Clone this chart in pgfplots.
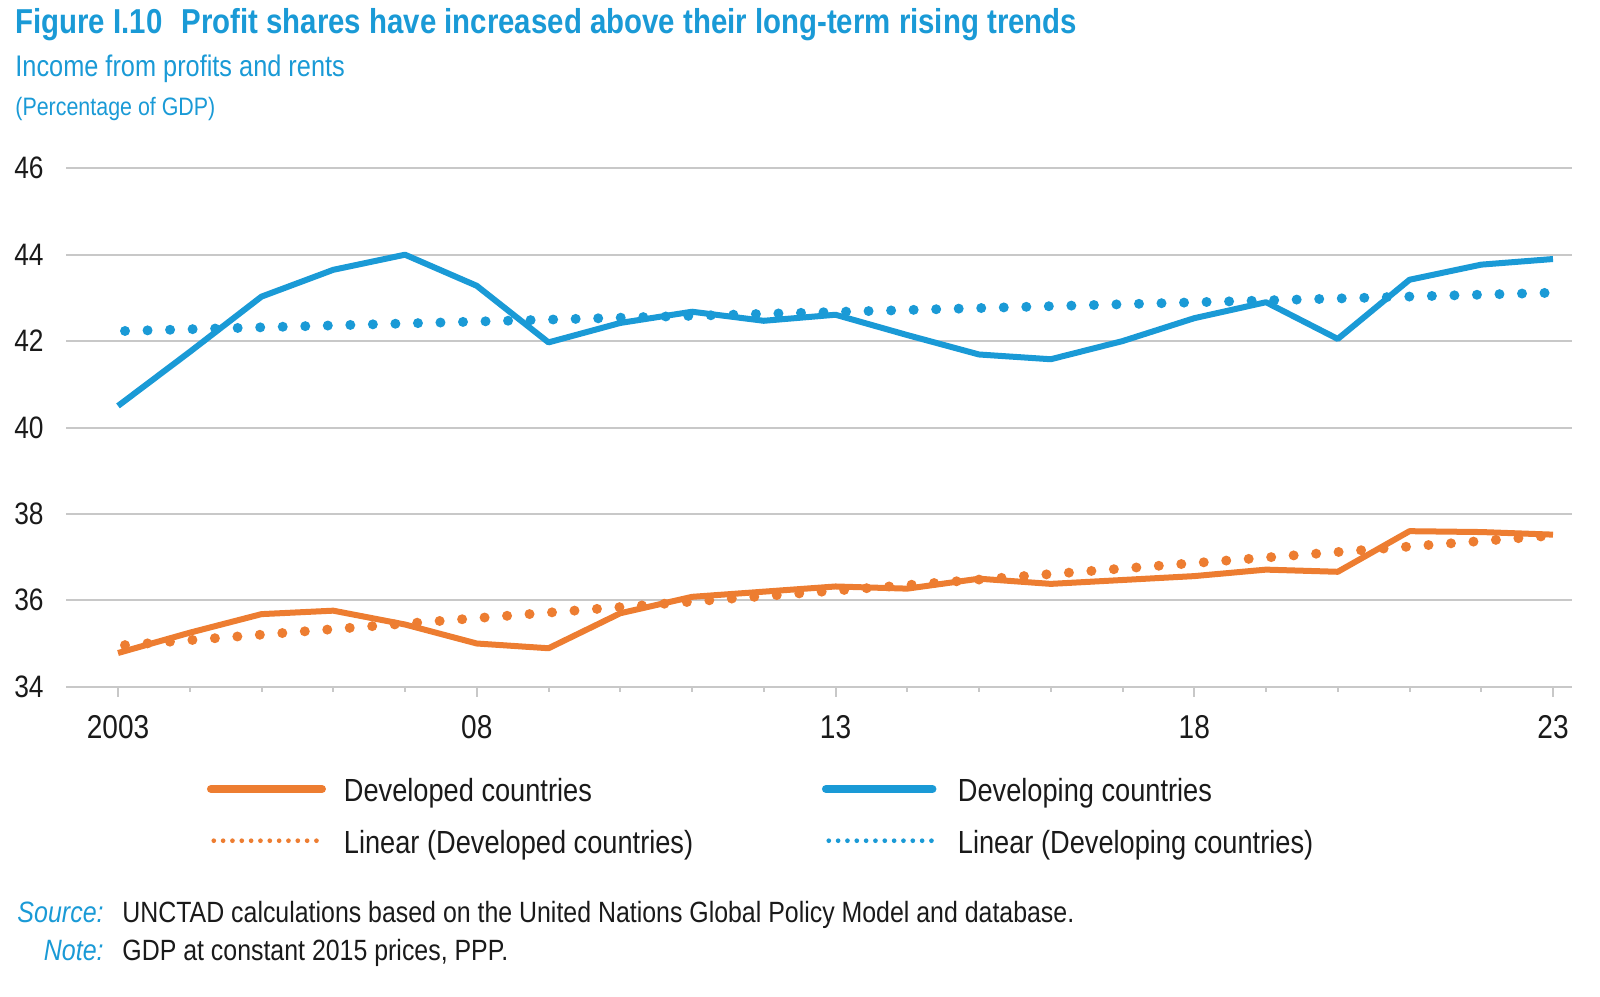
\documentclass[border=0pt]{standalone}
\usepackage{fontspec}
\setmainfont{Liberation Sans}[FakeStretch=0.85]
\usepackage{pgfplots}
\pgfplotsset{compat=1.18}
\definecolor{unblue}{HTML}{1A9AD6}
\definecolor{unorange}{HTML}{ED7D31}
\definecolor{gridgray}{HTML}{C8C8C8}
\definecolor{txt}{HTML}{1A1A1A}

\pgfplotstableread{
year developed developing
2003 34.78 40.50
2004 35.25 41.75
2005 35.68 43.03
2006 35.76 43.65
2007 35.44 44.00
2008 35.00 43.28
2009 34.89 41.97
2010 35.70 42.42
2011 36.08 42.68
2012 36.20 42.47
2013 36.32 42.61
2014 36.27 42.14
2015 36.50 41.69
2016 36.38 41.58
2017 36.47 42.00
2018 36.56 42.53
2019 36.71 42.90
2020 36.66 42.05
2021 37.60 43.42
2022 37.58 43.77
2023 37.52 43.90
}\datatable

\begin{document}
\begin{tikzpicture}
\path[use as bounding box] (0pt,0pt) rectangle (800pt,498pt);
\node[anchor=base west, inner sep=0pt, text=unblue, font=\fontsize{17.3}{20}\selectfont\bfseries] at (7.5pt,481pt) {Figure I.10\hspace{0.55em}Profit shares have increased above their long-term rising trends};
\node[anchor=base west, inner sep=0pt, text=unblue, font=\fontsize{14.9}{17}\selectfont] at (7.5pt,459.5pt) {Income from profits and rents};
\node[anchor=base west, inner sep=0pt, text=unblue, font=\fontsize{12.6}{15}\selectfont] at (7.5pt,440pt) {(Percentage of GDP)};

\begin{axis}[
  at={(33pt,154.65pt)}, anchor=south west,
  scale only axis, width=753pt, height=259.2pt,
  xmin=2002.275, xmax=2023.265, ymin=34, ymax=46,
  ytick={34,36,38,40,42,44,46},
  xtick={2003,2008,2013,2018,2023},
  xticklabels={2003,08,13,18,23},
  minor xtick={2004,2005,2006,2007,2009,2010,2011,2012,2014,2015,2016,2017,2019,2020,2021,2022},
  axis line style={draw=none},
  ymajorgrids, grid style={gridgray, line width=1pt},
  xtick pos=bottom, ytick pos=left,
  tick align=outside, major tick length=5pt, minor tick length=2.5pt,
  xtick style={gridgray, line width=1pt},
  ytick style={draw=none},
  /pgf/number format/assume math mode=true,
  yticklabel style={font=\fontsize{15.5}{18}\selectfont, text=txt, anchor=east, inner sep=0pt, xshift=-6pt},
  xticklabel style={font=\fontsize{16.5}{19}\selectfont, text=txt, anchor=base, inner sep=0pt, yshift=-20.65pt},
  legend columns=2,
  legend cell align=left,
  legend style={at={(axis description cs:0.0936,-0.17554)}, anchor=north west,
    draw=none, fill=none, inner sep=0pt, outer sep=0pt, row sep=9.85pt, column sep=0pt,
    font=\fontsize{16}{19}\selectfont, text=txt,
    nodes={inner sep=0pt, anchor=base west, text height=12pt, text depth=4pt}},
]
\addplot[unorange, line width=3pt, line join=round,
  legend image code/.code={\draw[unorange, line width=4pt, line cap=round] (2pt,6.35pt) -- (57.5pt,6.35pt); \path[draw=none, fill=none] (0pt,0pt) -- (68.5pt,0pt);}]
  table[x=year, y=developed] {\datatable};
\addlegendentry{\makebox[239pt][l]{Developed countries}}
\addplot[unblue, line width=3pt, line join=round,
  legend image code/.code={\draw[unblue, line width=4pt, line cap=round] (2pt,6.35pt) -- (55.25pt,6.35pt); \path[draw=none, fill=none] (0pt,0pt) -- (68pt,0pt);}]
  table[x=year, y=developing] {\datatable};
\addlegendentry{Developing countries}
\addplot[unorange, line width=5pt, line cap=round, dash pattern=on 0pt off 11.27pt, dash phase=7.77pt,
  legend image code/.code={\draw[unorange, line width=2.35pt, line cap=round, dash pattern=on 0pt off 4.667pt] (1.85pt,6.35pt) -- (57.85pt,6.35pt); \path[draw=none, fill=none] (0pt,0pt) -- (68.5pt,0pt);}]
  coordinates {(2003,34.95) (2023,37.50)};
\addlegendentry{\makebox[239pt][l]{Linear (Developed countries)}}
\addplot[unblue, line width=5pt, line cap=round, dash pattern=on 0pt off 11.27pt, dash phase=7.77pt,
  legend image code/.code={\draw[unblue, line width=2.35pt, line cap=round, dash pattern=on 0pt off 4.667pt] (1.85pt,6.35pt) -- (56.6pt,6.35pt); \path[draw=none, fill=none] (0pt,0pt) -- (68pt,0pt);}]
  coordinates {(2003,42.23) (2023,43.12)};
\addlegendentry{Linear (Developing countries)}
\end{axis}

\node[anchor=base east, inner sep=0pt, text=unblue, font=\fontsize{14.7}{18}\selectfont\itshape] at (52pt,36.65pt) {Source:};
\node[anchor=base west, inner sep=0pt, text=txt, font=\fontsize{14.65}{18}\selectfont] at (61pt,36.65pt) {UNCTAD calculations based on the United Nations Global Policy Model and database.};
\node[anchor=base east, inner sep=0pt, text=unblue, font=\fontsize{14.7}{18}\selectfont\itshape] at (52pt,18pt) {Note:};
\node[anchor=base west, inner sep=0pt, text=txt, font=\fontsize{14.65}{18}\selectfont] at (61pt,18pt) {GDP at constant 2015 prices, PPP.};
\end{tikzpicture}
\end{document}
